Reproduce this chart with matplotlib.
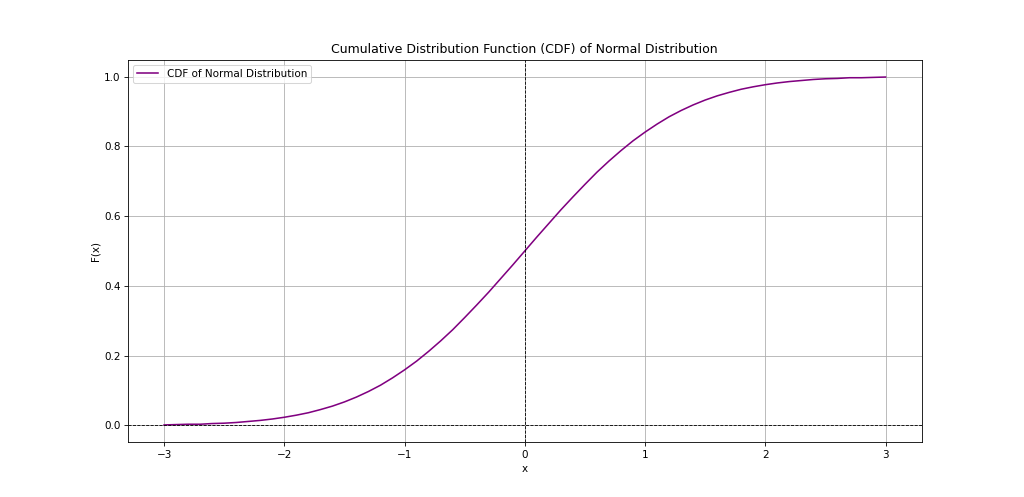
import matplotlib
matplotlib.use('Agg')
import matplotlib.pyplot as plt

# Valores (CDF de la normal estándar), paso de 0.1
x_vals = [-3.0, -2.9, -2.8, -2.7, -2.6, -2.5, -2.4, -2.3, -2.2, -2.1,
          -2.0, -1.9, -1.8, -1.7, -1.6, -1.5, -1.4, -1.3, -1.2, -1.1,
          -1.0, -0.9, -0.8, -0.7, -0.6, -0.5, -0.4, -0.3, -0.2, -0.1,
          0.0, 0.1, 0.2, 0.3, 0.4, 0.5, 0.6, 0.7, 0.8, 0.9,
          1.0, 1.1, 1.2, 1.3, 1.4, 1.5, 1.6, 1.7, 1.8, 1.9,
          2.0, 2.1, 2.2, 2.3, 2.4, 2.5, 2.6, 2.7, 2.8, 2.9, 3.0]
cdf_vals = [0.001, 0.002, 0.003, 0.003, 0.005, 0.006, 0.008, 0.011, 0.014, 0.018,
            0.023, 0.029, 0.036, 0.045, 0.055, 0.067, 0.081, 0.097, 0.115, 0.136,
            0.159, 0.184, 0.212, 0.242, 0.274, 0.309, 0.345, 0.382, 0.421, 0.460,
            0.500, 0.540, 0.579, 0.618, 0.655, 0.691, 0.726, 0.758, 0.788, 0.816,
            0.841, 0.864, 0.885, 0.903, 0.919, 0.933, 0.945, 0.955, 0.964, 0.971,
            0.977, 0.982, 0.986, 0.989, 0.992, 0.994, 0.995, 0.997, 0.997, 0.998, 0.999]

# La figura original parece hecha a menor dpi: 75 dpi reproduce el tamaño de texto
plt.figure(figsize=(1024 / 75, 497 / 75), dpi=75)
plt.plot(x_vals, cdf_vals, color='purple', label='CDF of Normal Distribution')
plt.title('Cumulative Distribution Function (CDF) of Normal Distribution')
plt.xlabel('x')
plt.ylabel('F(x)')
plt.axhline(0, color='black', linewidth=0.8, linestyle='--')
plt.axvline(0, color='black', linewidth=0.8, linestyle='--')
plt.grid(True)
plt.legend(loc='upper left')
plt.savefig('out.png', dpi=75)
